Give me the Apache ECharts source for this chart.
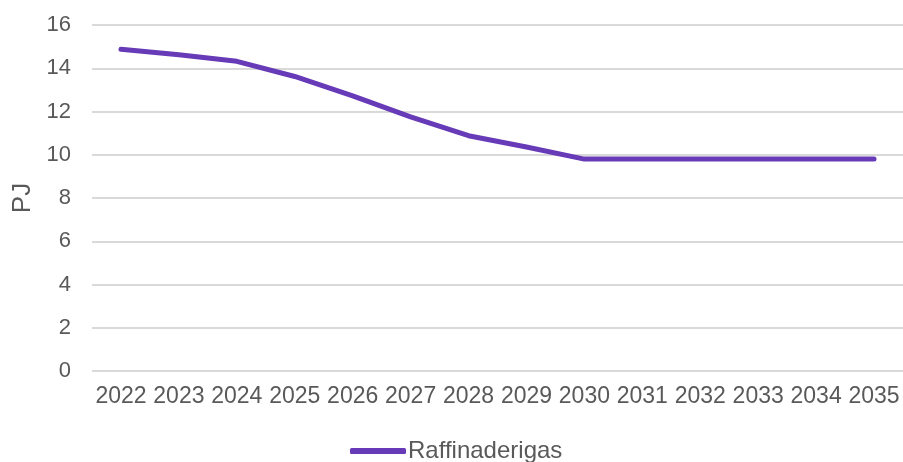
<!DOCTYPE html>
<html>
<head>
<meta charset="utf-8">
<script src="https://cdn.jsdelivr.net/npm/echarts@6/dist/echarts.min.js"></script>
<style>
  html, body { margin: 0; padding: 0; background: #fff; }
  #chart { width: 903px; height: 462px; }
</style>
</head>
<body>
<div id="chart"></div>
<script>
// data
const years = ['2022', '2023', '2024', '2025', '2026', '2027', '2028', '2029', '2030', '2031', '2032', '2033', '2034', '2035'];
const raffinaderigas = [14.88, 14.62, 14.32, 13.62, 12.72, 11.75, 10.88, 10.36, 9.8, 9.8, 9.8, 9.8, 9.8, 9.8];
const seriesName = 'Raffinaderigas';
const yTicks = { min: 0, max: 16, interval: 2 };

const chart = echarts.init(document.getElementById('chart'));

const textColor = '#595959';
const font = 'Liberation Sans, Arial, sans-serif';

chart.setOption({
    animation: false,
    textStyle: { fontFamily: font },
    grid: {
        left: 92,
        right: 0,
        top: 25,
        bottom: 91
    },
    legend: {
        left: 345,
        bottom: -6,
        itemWidth: 56,
        itemHeight: 6,
        textStyle: { color: textColor, fontSize: 24, fontFamily: font, padding: [0, 0, 0, -3] },
        data: [{ name: seriesName, icon: 'roundRect' }]
    },
    xAxis: {
        type: 'category',
        data: years,
        boundaryGap: true,
        axisLine: { show: false },
        axisTick: { show: false },
        axisLabel: {
            color: textColor,
            fontSize: 23,
            margin: 14,
            interval: 0
        }
    },
    yAxis: {
        type: 'value',
        min: yTicks.min,
        max: yTicks.max,
        interval: yTicks.interval,
        name: 'PJ',
        nameLocation: 'middle',
        nameGap: 54,
        nameTextStyle: { color: textColor, fontSize: 26, fontFamily: font },
        axisLine: { show: false },
        axisTick: { show: false },
        axisLabel: { color: textColor, fontSize: 22, margin: 21 },
        splitLine: { lineStyle: { color: '#d9d9d9', width: 2 } }
    },
    series: [
        {
            name: seriesName,
            type: 'line',
            data: raffinaderigas,
            symbol: 'none',
            itemStyle: { color: '#673ab7' },
            lineStyle: { color: '#673ab7', width: 5, cap: 'round', join: 'round' }
        }
    ]
});
</script>
</body>
</html>
